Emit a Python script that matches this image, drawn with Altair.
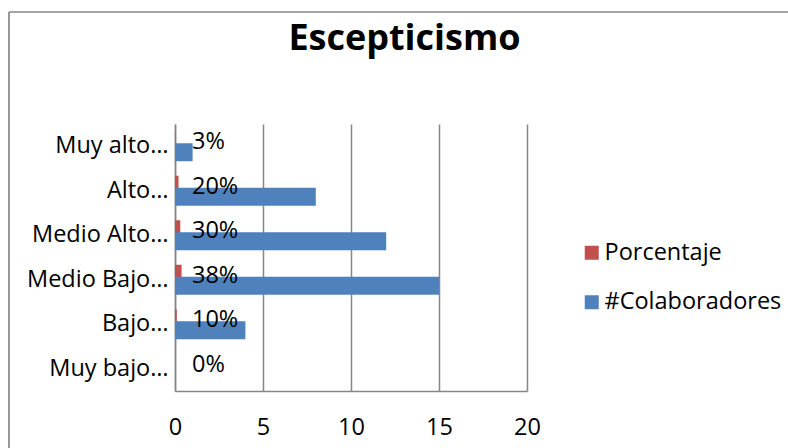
import altair as alt
import pandas as pd

categorias = ["Muy alto…", "Alto…", "Medio Alto…", "Medio Bajo…", "Bajo…", "Muy bajo…"]
colaboradores = [1, 8, 12, 15, 4, 0]
porcentaje = [0.025, 0.20, 0.30, 0.375, 0.10, 0.0]
etiquetas = ["3%", "20%", "30%", "38%", "10%", "0%"]
series = ["Porcentaje", "#Colaboradores"]
colores = ["#C0504D", "#4F81BD"]
ticks_x = [0, 5, 10, 15, 20]
titulo = "Escepticismo"

FONT = "Open Sans"
FS = 23.5

rows = []
for c, v, p, e in zip(categorias, colaboradores, porcentaje, etiquetas):
    rows.append({"cat": c, "serie": "Porcentaje", "valor": p, "etq": e})
    rows.append({"cat": c, "serie": "#Colaboradores", "valor": v, "etq": ""})
df = pd.DataFrame(rows)

W, H = 352, 267

y_enc = alt.Y("cat:N", sort=categorias,
              scale=alt.Scale(paddingInner=0, paddingOuter=0),
              axis=alt.Axis(title=None, ticks=False, labelPadding=7, labelFontSize=FS,
                            labelFont=FONT, labelColor="#000", domainColor="#868686",
                            domainWidth=1.5, grid=False, labelLimit=200))
x_scale = alt.Scale(domain=[0, 20], nice=False)
x_enc = alt.X("valor:Q", scale=x_scale,
              axis=alt.Axis(title=None, values=ticks_x, ticks=False, labelPadding=24,
                            labelFlush=False, labelOverlap=False,
                            labelFontSize=FS, labelFont=FONT, labelColor="#000",
                            domainColor="#868686", domainWidth=1.5, gridColor="#868686",
                            gridWidth=1.5))
color_enc = alt.Color("serie:N", scale=alt.Scale(domain=series, range=colores),
                      legend=alt.Legend(title=None, orient="none", legendX=405, legendY=117,
                                        symbolType="square", symbolSize=196,
                                        symbolStrokeWidth=0, labelFontSize=FS,
                                        labelFont=FONT, labelColor="#000", rowPadding=24.5,
                                        labelOffset=1, labelLimit=400))

base = alt.Chart(df)

red = base.transform_filter(alt.datum.serie == "Porcentaje").mark_bar(
    height=18, yOffset=-6).encode(x=x_enc, y=y_enc, color=color_enc)
blue = base.transform_filter(alt.datum.serie == "#Colaboradores").mark_bar(
    height=18, yOffset=6).encode(x=x_enc, y=y_enc, color=color_enc)
text = base.transform_filter(alt.datum.serie == "Porcentaje").mark_text(
    align="left", baseline="middle", dx=17, dy=-4, fontSize=FS, font=FONT, color="#000"
).encode(x=alt.datum(0), y=alt.Y("cat:N", sort=categorias), text="etq:N")

one = pd.DataFrame({"a": [0]})
title_mark = alt.Chart(one).mark_text(
    text=titulo, font=FONT, fontSize=36, fontWeight="bold", color="#000",
    align="center", baseline="alphabetic").encode(x=alt.value(229.5), y=alt.value(-74))

border_v = alt.Chart(one).mark_rule(color="#878787", strokeWidth=1.7).encode(
    x=alt.value(-166), y=alt.value(-112), y2=alt.value(330))
border_h = alt.Chart(one).mark_rule(color="#878787", strokeWidth=1.7).encode(
    x=alt.value(-166), x2=alt.value(620), y=alt.value(-112))

chart = alt.layer(red, blue, text, title_mark, border_v, border_h).properties(
    width=W, height=H,
    view=alt.ViewBackground(stroke="transparent", strokeWidth=0, strokeOpacity=0),
    autosize=alt.AutoSizeParams(type="none"),
    padding={"left": 175, "top": 124, "right": 261, "bottom": 57},
).configure_view(stroke="transparent", strokeWidth=0, strokeOpacity=0).configure(background="white")

chart.save("out.html", embed_options={"renderer": "svg", "actions": False})
